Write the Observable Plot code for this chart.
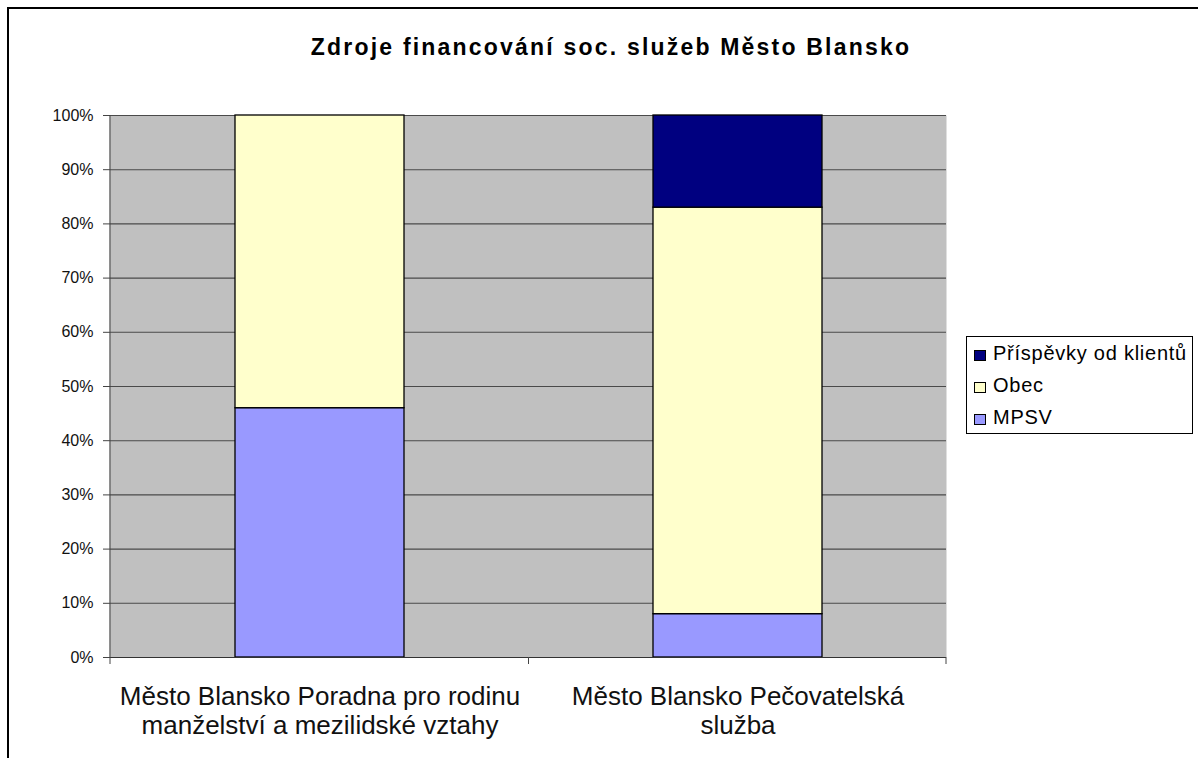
<!DOCTYPE html>
<html>
<head>
<meta charset="utf-8">
<script src="https://cdn.jsdelivr.net/npm/d3@7"></script>
<script src="https://cdn.jsdelivr.net/npm/@observablehq/plot@0.6"></script>
<style>
  html, body { margin: 0; padding: 0; background: #fff; }
  body { font-family: "Liberation Sans", Arial, sans-serif; }
  #wrap { position: relative; width: 1198px; height: 758px; overflow: hidden; }
  #border { position: absolute; left: 7px; top: 7px; width: 1300px; height: 900px; border-left: 2px solid #000; border-top: 2px solid #000; box-sizing: border-box; }
  #title { position: absolute; left: 0; top: 36px; width: 1222px; text-align: center; font-weight: bold; font-size: 23px; line-height: 23px; letter-spacing: 2.2px; color: #000; }
  #chart { position: absolute; left: 0; top: 0; }
  #legend { position: absolute; left: 966px; top: 336px; width: 227px; height: 98px; border: 1px solid #000; box-sizing: border-box; background: #fff; }
  .lrow { position: absolute; left: 26px; font-size: 20px; line-height: 20px; letter-spacing: 0.75px; color: #000; white-space: nowrap; }
  .lsw { position: absolute; left: 7px; width: 10px; height: 9px; border: 1px solid #000; }
</style>
</head>
<body>
<div id="wrap">
  <div id="border"></div>
  <div id="chart"></div>
  <div id="title"></div>
  <div id="legend"></div>
</div>
<script>
const chartTitle = "Zdroje financování soc. služeb Město Blansko";
const categories = [
  "Město Blansko Poradna pro rodinu manželství a mezilidské vztahy",
  "Město Blansko Pečovatelská služba"
];
const categoryLabels = [
  "Město Blansko Poradna pro rodinu\nmanželství a mezilidské vztahy",
  "Město Blansko Pečovatelská\nslužba"
];
const seriesNames = ["MPSV", "Obec", "Příspěvky od klientů"];
const mpsvValues = [0.46, 0.08];
const obecValues = [0.54, 0.75];
const prispevkyValues = [0, 0.17];
const seriesColors = ["#9999FF", "#FFFFCC", "#000080"];
const yTicks = [0, 0.1, 0.2, 0.3, 0.4, 0.5, 0.6, 0.7, 0.8, 0.9, 1.0];
const legendOrder = ["Příspěvky od klientů", "Obec", "MPSV"];

const seriesValues = [mpsvValues, obecValues, prispevkyValues];
const data = [];
seriesNames.forEach((s, si) => {
  categories.forEach((c, ci) => {
    const v = seriesValues[si][ci];
    if (v > 0) data.push({category: c, series: s, value: v});
  });
});

const labelOf = new Map(categories.map((c, i) => [c, categoryLabels[i]]));

const plot = Plot.plot({
  width: 1198,
  height: 758,
  marginTop: 115,
  marginLeft: 110,
  marginRight: 252,
  marginBottom: 101,
  style: {fontFamily: "'Liberation Sans', Arial, sans-serif", background: "transparent", overflow: "visible"},
  x: {domain: categories, paddingInner: 0.596, paddingOuter: 0.298, label: null},
  y: {domain: [0, 1], label: null},
  color: {domain: seriesNames, range: seriesColors},
  marks: [
    Plot.frame({fill: "#C0C0C0", stroke: null}),
    Plot.ruleY(yTicks.filter(d => d > 0), {stroke: "#4a4a4a", strokeWidth: 1.1}),
    Plot.barY(data, {
      x: "category", y: "value", fill: "series",
      order: seriesNames, stroke: "#000", strokeWidth: 1.3
    }),
    Plot.ruleY([0], {stroke: "#333", strokeWidth: 1}),
    Plot.axisY({
      ticks: yTicks, tickSize: 7, tickPadding: 10,
      tickFormat: d3.format(".0%"), fontSize: 16,
      stroke: "#444", fill: "#111", label: null
    }),
    Plot.axisX({
      tickSize: 0, tickPadding: 27, fontSize: 26, lineHeight: 1.115,
      tickFormat: d => labelOf.get(d), fill: "#111", label: null
    })
  ]
});

document.getElementById("chart").appendChild(plot);

// left axis line and category-boundary ticks, from the plot's own scales
const xs = plot.scale("x");
const ys = plot.scale("y");
const y0 = ys.apply(0), y1 = ys.apply(1);
const bounds = [xs.range[0]];
for (let i = 0; i < categories.length - 1; i++) {
  bounds.push((xs.apply(categories[i]) + xs.bandwidth + xs.apply(categories[i + 1])) / 2);
}
bounds.push(xs.range[1]);
const svg = d3.select(plot);
svg.append("line")
  .attr("x1", xs.range[0]).attr("x2", xs.range[0])
  .attr("y1", y1).attr("y2", y0)
  .attr("stroke", "#444").attr("stroke-width", 1.2);
svg.append("g").selectAll("line").data(bounds).join("line")
  .attr("x1", d => d).attr("x2", d => d)
  .attr("y1", y0).attr("y2", y0 + 7)
  .attr("stroke", "#444").attr("stroke-width", 1);

// title
document.getElementById("title").textContent = chartTitle;

// legend
const legend = document.getElementById("legend");
const colorOf = new Map(seriesNames.map((s, i) => [s, seriesColors[i]]));
legendOrder.forEach((s, i) => {
  const sw = document.createElement("div");
  sw.className = "lsw";
  sw.style.top = (13 + i * 32) + "px";
  sw.style.background = colorOf.get(s);
  legend.appendChild(sw);
  const row = document.createElement("div");
  row.className = "lrow";
  row.style.top = (6 + i * 32) + "px";
  row.textContent = s;
  legend.appendChild(row);
});
</script>
</body>
</html>
